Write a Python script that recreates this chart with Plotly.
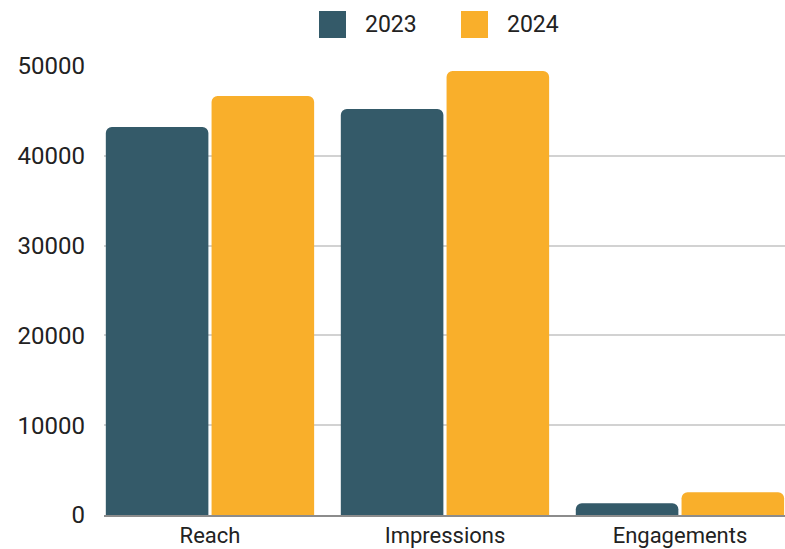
import plotly.graph_objects as go

categories = ["Reach", "Impressions", "Engagements"]
series_names = ["2023", "2024"]
values_2023 = [43200, 45200, 1300]
values_2024 = [46650, 49450, 2530]
y_ticks = [0, 10000, 20000, 30000, 40000, 50000]
y_tick_labels = ["0", "10000", "20000", "30000", "40000", "50000"]
colors = ["#345A69", "#F9AF2B"]

fig = go.Figure()
for name, vals, col in zip(series_names, [values_2023, values_2024], colors):
    fig.add_trace(go.Bar(name=name, x=categories, y=vals, marker_color=col,
                         marker_line_width=0, showlegend=False))

font_family = "Roboto, 'Open Sans', sans-serif"
text_color = "#222222"

# Manual legend (large square swatches) in paper coordinates
legend_items = [(0.3157, 0.3554, 0.3803), (0.5242, 0.5639, 0.5888)]
for (x0, x1, tx), name, col in zip(legend_items, series_names, colors):
    fig.add_shape(type="rect", xref="paper", yref="paper", x0=x0, x1=x1,
                  y0=1.0624, y1=1.1225, fillcolor=col, line_width=0, layer="above")
    fig.add_annotation(xref="paper", yref="paper", x=tx, y=1.0925, text=name,
                       showarrow=False, xanchor="left", yanchor="middle",
                       font=dict(family=font_family, size=23, color=text_color))

fig.update_layout(
    width=785, height=549,
    margin=dict(l=104, r=0, t=66, b=34),
    paper_bgcolor="white", plot_bgcolor="white",
    barmode="group", bargap=0.1, bargroupgap=0.03,
    barcornerradius=6,
    font=dict(family=font_family, size=23, color=text_color),
    showlegend=False,
    xaxis=dict(range=[-0.451, 2.447], showgrid=False, showline=True, linecolor="#8C8C8C",
               linewidth=1.5, ticks="", tickfont=dict(size=22), ticklabelstandoff=0,
               automargin=False, fixedrange=True),
    yaxis=dict(range=[0, 50000], tickvals=y_ticks, ticktext=y_tick_labels,
               showgrid=True, gridcolor="#D2D2D2", automargin=False,
               gridwidth=1.5, zeroline=False, showline=False, ticks="",
               ticklabelstandoff=18, tickfont=dict(size=24)),
)

fig.write_html("out.html")
